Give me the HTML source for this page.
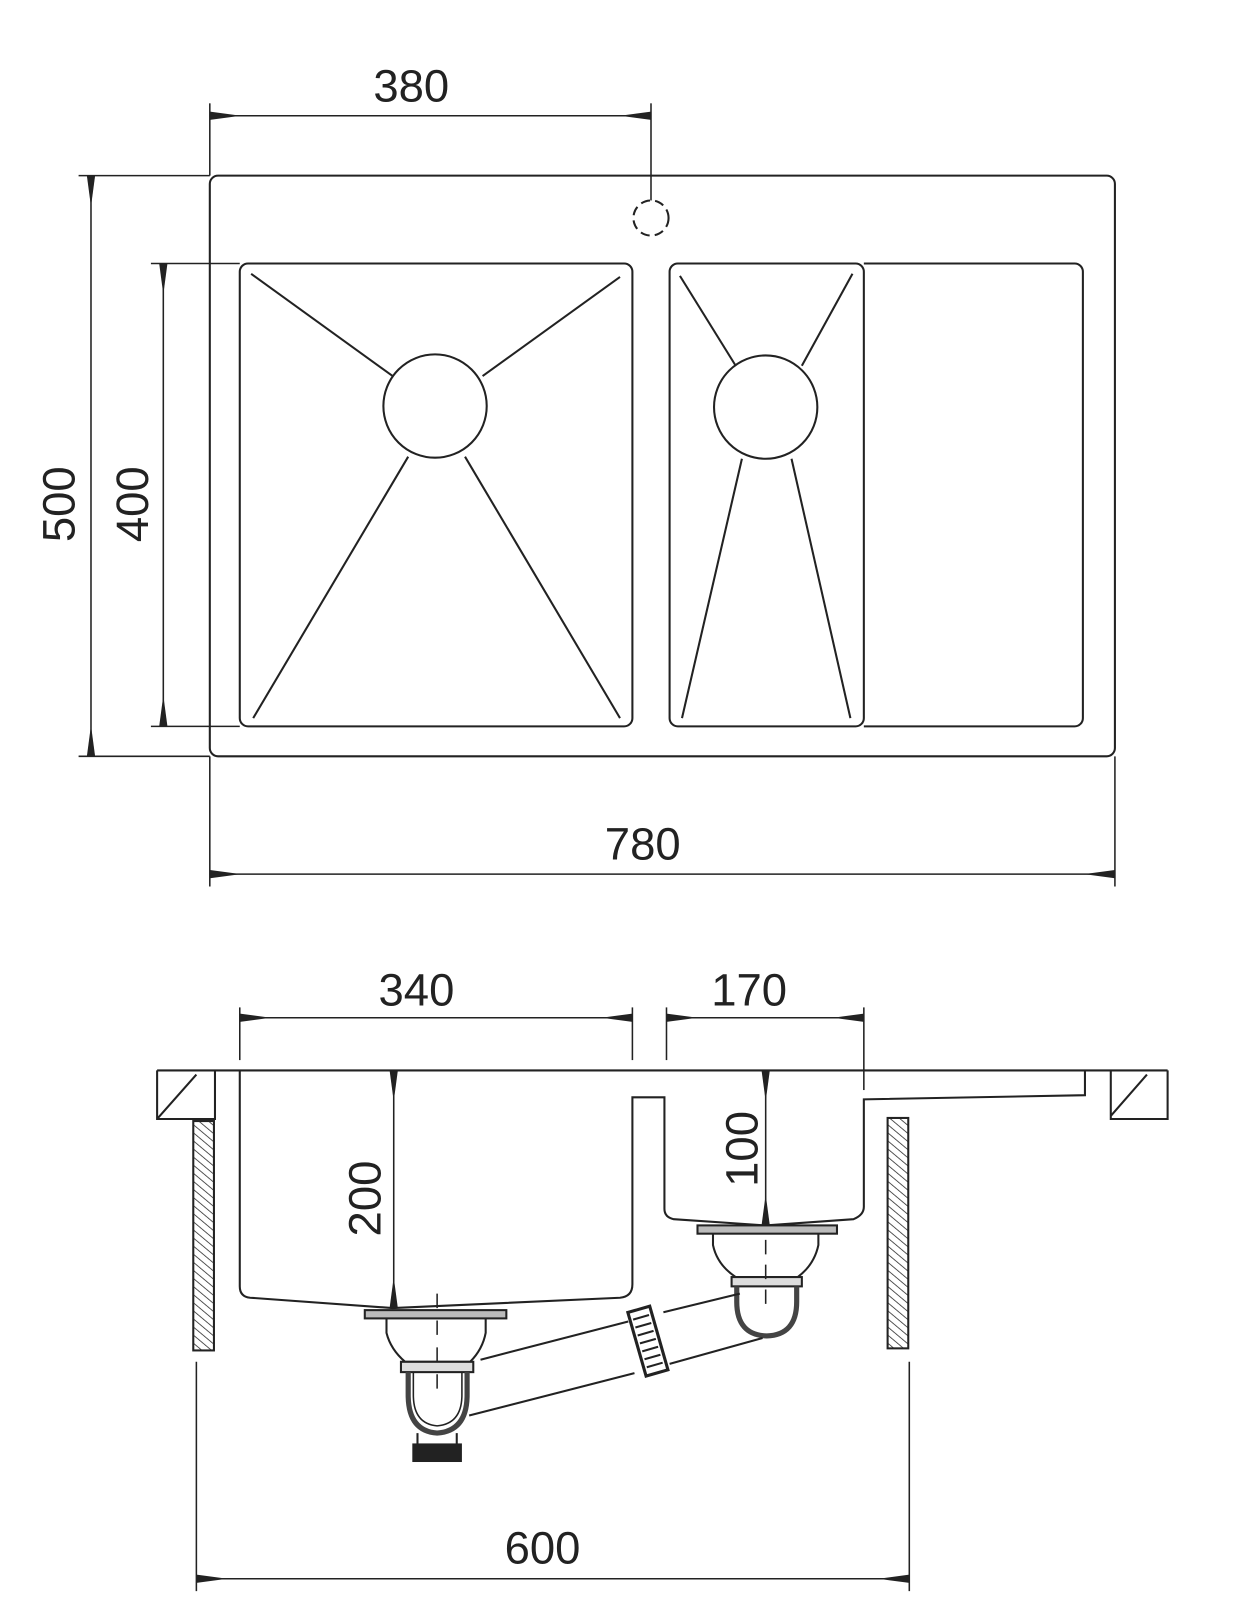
<!DOCTYPE html>
<html><head><meta charset="utf-8"><style>
html,body{margin:0;padding:0;background:#fff;}
svg{display:block}
text{font-family:"Liberation Sans",sans-serif;fill:#222;}
</style></head><body>
<svg width="1240" height="1617" viewBox="0 0 1200 1565" xmlns="http://www.w3.org/2000/svg">
<defs>
<marker id="a" viewBox="0 0 30 10" refX="30" refY="5" markerWidth="30" markerHeight="10" markerUnits="userSpaceOnUse" orient="auto-start-reverse"><path d="M0,5 L30,1 L30,9 Z" fill="#222"/></marker>
<pattern id="h" width="6" height="6" patternUnits="userSpaceOnUse" patternTransform="rotate(-50)"><line x1="0" y1="0" x2="0" y2="6" stroke="#333" stroke-width="1.6"/></pattern>
</defs>
<g stroke="#222" fill="none" stroke-width="2">
<!-- top view -->
<rect x="203" y="170" width="876" height="562" rx="8"/>
<rect x="232" y="255" width="380" height="448" rx="8"/>
<rect x="648" y="255" width="188" height="448" rx="8"/>
<path d="M836,255 H1040 a8,8 0 0 1 8,8 V695 a8,8 0 0 1 -8,8 H836"/>
<circle cx="421" cy="393" r="50"/>
<circle cx="741" cy="394" r="50"/>
<line x1="243" y1="265" x2="380" y2="364"/><line x1="600" y1="268" x2="467" y2="364"/>
<line x1="245" y1="695" x2="395" y2="442"/><line x1="600" y1="695" x2="450" y2="442"/>
<line x1="658" y1="267" x2="712" y2="354"/><line x1="825" y1="265" x2="776" y2="354"/>
<line x1="660" y1="695" x2="718" y2="444"/><line x1="823" y1="695" x2="766" y2="444"/>
<circle cx="630" cy="211" r="17" stroke-dasharray="9,5"/>
<!-- dims top -->
<line x1="203" y1="100" x2="203" y2="170" stroke-width="1.5"/>
<line x1="630" y1="100" x2="630" y2="194" stroke-width="1.5"/>
<line x1="203" y1="112" x2="630" y2="112" stroke-width="1.5" marker-start="url(#a)" marker-end="url(#a)"/>
<line x1="76" y1="170" x2="203" y2="170" stroke-width="1.5"/>
<line x1="76" y1="732" x2="203" y2="732" stroke-width="1.5"/>
<line x1="88" y1="170" x2="88" y2="732" stroke-width="1.5" marker-start="url(#a)" marker-end="url(#a)"/>
<line x1="146" y1="255" x2="232" y2="255" stroke-width="1.5"/>
<line x1="146" y1="703" x2="232" y2="703" stroke-width="1.5"/>
<line x1="158" y1="255" x2="158" y2="703" stroke-width="1.5" marker-start="url(#a)" marker-end="url(#a)"/>
<line x1="203" y1="732" x2="203" y2="858" stroke-width="1.5"/>
<line x1="1079" y1="732" x2="1079" y2="858" stroke-width="1.5"/>
<line x1="203" y1="846" x2="1079" y2="846" stroke-width="1.5" marker-start="url(#a)" marker-end="url(#a)"/>
<!-- bottom view -->
<line x1="152" y1="1036" x2="1130" y2="1036"/>
<path d="M152,1036 V1083 H208 V1036 M152,1083 L190,1040"/>
<path d="M1130,1036 V1083 H1075 V1036 M1075,1080 L1110,1040"/>
<rect x="187" y="1085" width="20" height="222" fill="url(#h)"/>
<rect x="859" y="1082" width="20" height="223" fill="url(#h)"/>
<path d="M232,1036 V1245 Q232,1255 242,1256 L380,1266 L600,1256 Q612,1255 612,1243 V1062 H643 V1170 Q643,1178 652,1180 L741,1186 L826,1180 Q836,1176 836,1168 V1064 L1050,1060 V1036"/>
<!-- dims bottom -->
<line x1="232" y1="975" x2="232" y2="1026" stroke-width="1.5"/>
<line x1="612" y1="975" x2="612" y2="1026" stroke-width="1.5"/>
<line x1="232" y1="985" x2="612" y2="985" stroke-width="1.5" marker-start="url(#a)" marker-end="url(#a)"/>
<line x1="645" y1="975" x2="645" y2="1026" stroke-width="1.5"/>
<line x1="836" y1="975" x2="836" y2="1055" stroke-width="1.5"/>
<line x1="645" y1="985" x2="836" y2="985" stroke-width="1.5" marker-start="url(#a)" marker-end="url(#a)"/>
<line x1="381" y1="1036" x2="381" y2="1266" stroke-width="1.5" marker-start="url(#a)" marker-end="url(#a)"/>
<line x1="741" y1="1036" x2="741" y2="1186" stroke-width="1.5" marker-start="url(#a)" marker-end="url(#a)"/>
<line x1="190" y1="1318" x2="190" y2="1540" stroke-width="1.5"/>
<line x1="880" y1="1318" x2="880" y2="1540" stroke-width="1.5"/>
<line x1="190" y1="1528" x2="880" y2="1528" stroke-width="1.5" marker-start="url(#a)" marker-end="url(#a)"/>
<!-- left drain -->
<rect x="353" y="1268" width="137" height="8" fill="#bbb"/>
<path d="M374,1276 V1290 Q378,1306 392,1318 H455 Q467,1306 470,1290 V1276"/>
<rect x="388" y="1318" width="70" height="10" fill="#ddd"/>
<path d="M395,1328 V1350 Q395,1385 423,1387 Q452,1385 452,1350 V1328" stroke-width="5" stroke="#444"/>
<path d="M400,1328 V1350 Q400,1378 423,1380 Q447,1378 447,1350 V1328" stroke-width="1.5"/>
<path d="M404,1387 V1413 M442,1387 V1413"/>
<rect x="400" y="1398" width="46" height="16" fill="#222"/>
<line x1="423" y1="1252" x2="423" y2="1350" stroke-dasharray="14,12" stroke-width="1.5"/>
<!-- right drain -->
<rect x="675" y="1186" width="135" height="8" fill="#bbb"/>
<path d="M690,1194 V1205 Q694,1224 712,1236 H772 Q788,1224 792,1205 V1194"/>
<rect x="708" y="1236" width="68" height="9" fill="#ddd"/>
<path d="M713,1245 V1260 Q713,1292 742,1293 Q771,1292 771,1260 V1245" stroke-width="5" stroke="#444"/>
<line x1="741" y1="1200" x2="741" y2="1270" stroke-dasharray="14,10" stroke-width="1.5"/>
<!-- connecting pipe -->
<line x1="465" y1="1316" x2="608" y2="1279"/><line x1="642" y1="1270" x2="716" y2="1252"/>
<line x1="454" y1="1370" x2="614" y2="1329"/><line x1="648" y1="1320" x2="738" y2="1295"/>
<g transform="translate(627,1298) rotate(-16)">
<rect x="-11" y="-32" width="22" height="64" fill="#fff" stroke-width="3"/>
<path d="M-8,-24 H8 M-8,-16 H8 M-8,-8 H8 M-8,0 H8 M-8,8 H8 M-8,16 H8 M-8,24 H8" stroke-width="2"/>
</g>
</g>
<g font-size="44">
<text x="398" y="98" text-anchor="middle">380</text>
<text x="622" y="832" text-anchor="middle">780</text>
<text transform="translate(72,488) rotate(-90)" text-anchor="middle">500</text>
<text transform="translate(143,488) rotate(-90)" text-anchor="middle">400</text>
<text x="403" y="973" text-anchor="middle">340</text>
<text x="725" y="973" text-anchor="middle">170</text>
<text transform="translate(368,1160) rotate(-90)" text-anchor="middle">200</text>
<text transform="translate(733,1112) rotate(-90)" text-anchor="middle">100</text>
<text x="525" y="1513" text-anchor="middle">600</text>
</g>
</svg>
</body></html>
